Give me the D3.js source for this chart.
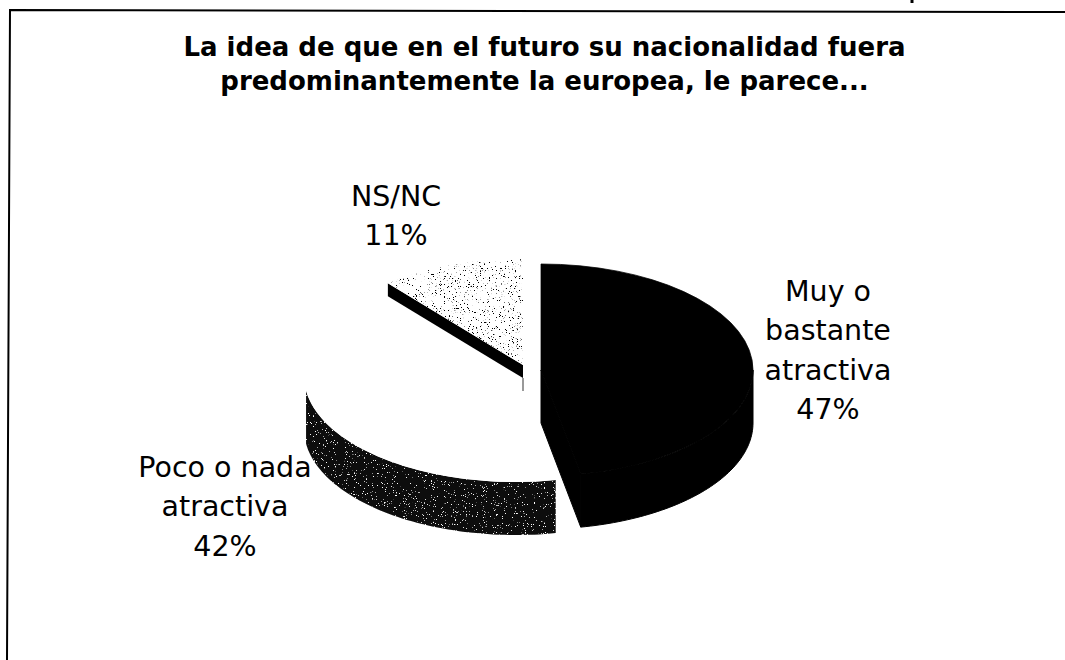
<!DOCTYPE html>
<html>
<head>
<meta charset="utf-8">
<script src="https://cdn.jsdelivr.net/npm/d3@7"></script>
<style>
  html, body { margin: 0; padding: 0; background: #fff; }
  svg { display: block; }
  text { font-family: "DejaVu Sans", Verdana, sans-serif; fill: #000; }
</style>
</head>
<body>
<div id="viz"></div>
<script>
const width = 1065;
const height = 660;

const titleLines = ['La idea de que en el futuro su nacionalidad fuera', 'predominantemente la europea, le parece...'];
const categories = ['Muy o bastante atractiva', 'Poco o nada atractiva', 'NS/NC'];
const values = [47, 42, 11];
const labelLines = [
    ['Muy o', 'bastante', 'atractiva', '47%'],
    ['Poco o nada', 'atractiva', '42%'],
    ['NS/NC', '11%']
];

// pie geometry, every slice is pulled out so each has its own centre
const rx = 212;
const ry = 106;
const depth = 53;
const centres = [{x: 541, y: 370}, {x: 516, y: 376}, {x: 523, y: 365}];
const labelPos = [{x: 828, y: 301}, {x: 225, y: 477}, {x: 396, y: 206}];
const lineStep = 39.3;

const svg = d3.select('#viz').append('svg')
    .attr('width', width)
    .attr('height', height)
    .attr('viewBox', [0, 0, width, height]);

// speckle fills, the scan turned the greys into dots
const defs = svg.append('defs');
const speckle = (id, freq, slope, cut, color) => {
    const f = defs.append('filter').attr('id', id)
        .attr('x', 0).attr('y', 0).attr('width', 1).attr('height', 1);
    f.append('feTurbulence').attr('type', 'fractalNoise')
        .attr('baseFrequency', freq).attr('numOctaves', 2).attr('seed', 4).attr('result', 'n');
    f.append('feColorMatrix').attr('in', 'n').attr('type', 'matrix')
        .attr('values', `0 0 0 0 ${color} 0 0 0 0 ${color} 0 0 0 0 ${color} ${slope} 0 0 0 ${cut}`)
        .attr('result', 'dots');
    f.append('feComposite').attr('in', 'dots').attr('in2', 'SourceAlpha').attr('operator', 'in').attr('result', 'clipped');
    const m = f.append('feMerge');
    m.append('feMergeNode').attr('in', 'SourceGraphic');
    m.append('feMergeNode').attr('in', 'clipped');
};
speckle('lightDots', 0.75, 14, -9.0, 0);
speckle('darkDots', 0.9, 14, -9.5, 1);

// frame, only top and left survive in the scan and the page sits a bit crooked
svg.append('path')
    .attr('d', d3.line()([[7, height], [10, 10], [width, 12]]))
    .attr('fill', 'none')
    .attr('stroke', '#000')
    .attr('stroke-width', 2);
svg.append('line').attr('x1', 912).attr('x2', 912).attr('y1', 0).attr('y2', 3)
    .attr('stroke', '#000').attr('stroke-width', 3);

svg.selectAll('.title')
    .data(titleLines)
    .join('text')
    .attr('class', 'title')
    .attr('x', 544.5)
    .attr('y', (d, i) => 56 + i * 34)
    .attr('text-anchor', 'middle')
    .attr('font-size', 26)
    .attr('font-weight', 'bold')
    .text(d => d);

const slices = d3.pie().sort(null)(values);
const arc = d3.arc().innerRadius(0).outerRadius(rx);

// point on the flattened rim of slice i
const rim = (i, a, dy = 0) => [
    centres[i].x + rx * Math.sin(a),
    centres[i].y - ry * Math.cos(a) + dy
];
const rimLine = d3.line();
const rad = deg => deg * Math.PI / 180;

// side wall along the front of the rim between two angles
const wall = (i, a0, a1) => {
    const n = 60;
    const top = d3.range(n + 1).map(k => rim(i, a0 + (a1 - a0) * k / n));
    const bottom = top.map(p => [p[0], p[1] + depth]).reverse();
    return rimLine(top.concat(bottom)) + 'Z';
};

// black slice, wall first (only the part from 90 deg on faces us)
svg.append('path')
    .attr('d', wall(0, rad(90), slices[0].endAngle))
    .attr('fill', '#000')
    .attr('stroke', '#000');
svg.append('path')
    .attr('d', rimLine([
        [centres[0].x, centres[0].y],
        [centres[0].x, centres[0].y + depth],
        rim(0, slices[0].endAngle, depth),
        rim(0, slices[0].endAngle)
    ]) + 'Z')
    .attr('fill', '#000')
    .attr('stroke', '#000');

// poco o nada wall, the scan lost its upper left end
svg.append('path')
    .attr('d', wall(1, slices[1].startAngle, rad(262)))
    .attr('fill', '#0a0a0a')
    .attr('filter', 'url(#darkDots)');

// NS/NC cut face, only a thin band is left
const cutDepth = 13;
const nsEnd = rim(2, slices[2].startAngle);
svg.append('path')
    .attr('d', rimLine([
        nsEnd,
        [centres[2].x, centres[2].y],
        [centres[2].x, centres[2].y + cutDepth],
        [nsEnd[0], nsEnd[1] + cutDepth]
    ]) + 'Z')
    .attr('fill', '#000');
svg.append('line')
    .attr('x1', centres[2].x).attr('x2', centres[2].x)
    .attr('y1', centres[2].y + cutDepth).attr('y2', centres[2].y + cutDepth + 13)
    .attr('stroke', '#777').attr('stroke-width', 1.5);

// top faces
const faceFill = ['#000', '#fff', '#fff'];
svg.selectAll('.face')
    .data(slices)
    .join('path')
    .attr('class', 'face')
    .attr('transform', (d, i) => `translate(${centres[i].x},${centres[i].y}) scale(1,${ry / rx})`)
    .attr('d', arc)
    .attr('fill', (d, i) => faceFill[i])
    .attr('stroke', (d, i) => i === 0 ? '#000' : null)
    .attr('filter', (d, i) => i === 2 ? 'url(#lightDots)' : null);

// labels
labelLines.forEach((lines, i) => {
    svg.append('text')
        .attr('class', 'label')
        .attr('text-anchor', 'middle')
        .attr('font-size', 28.5)
        .selectAll('tspan')
        .data(lines)
        .join('tspan')
        .attr('x', labelPos[i].x)
        .attr('y', (d, k) => labelPos[i].y + k * lineStep)
        .text(d => d);
});
</script>
</body>
</html>
